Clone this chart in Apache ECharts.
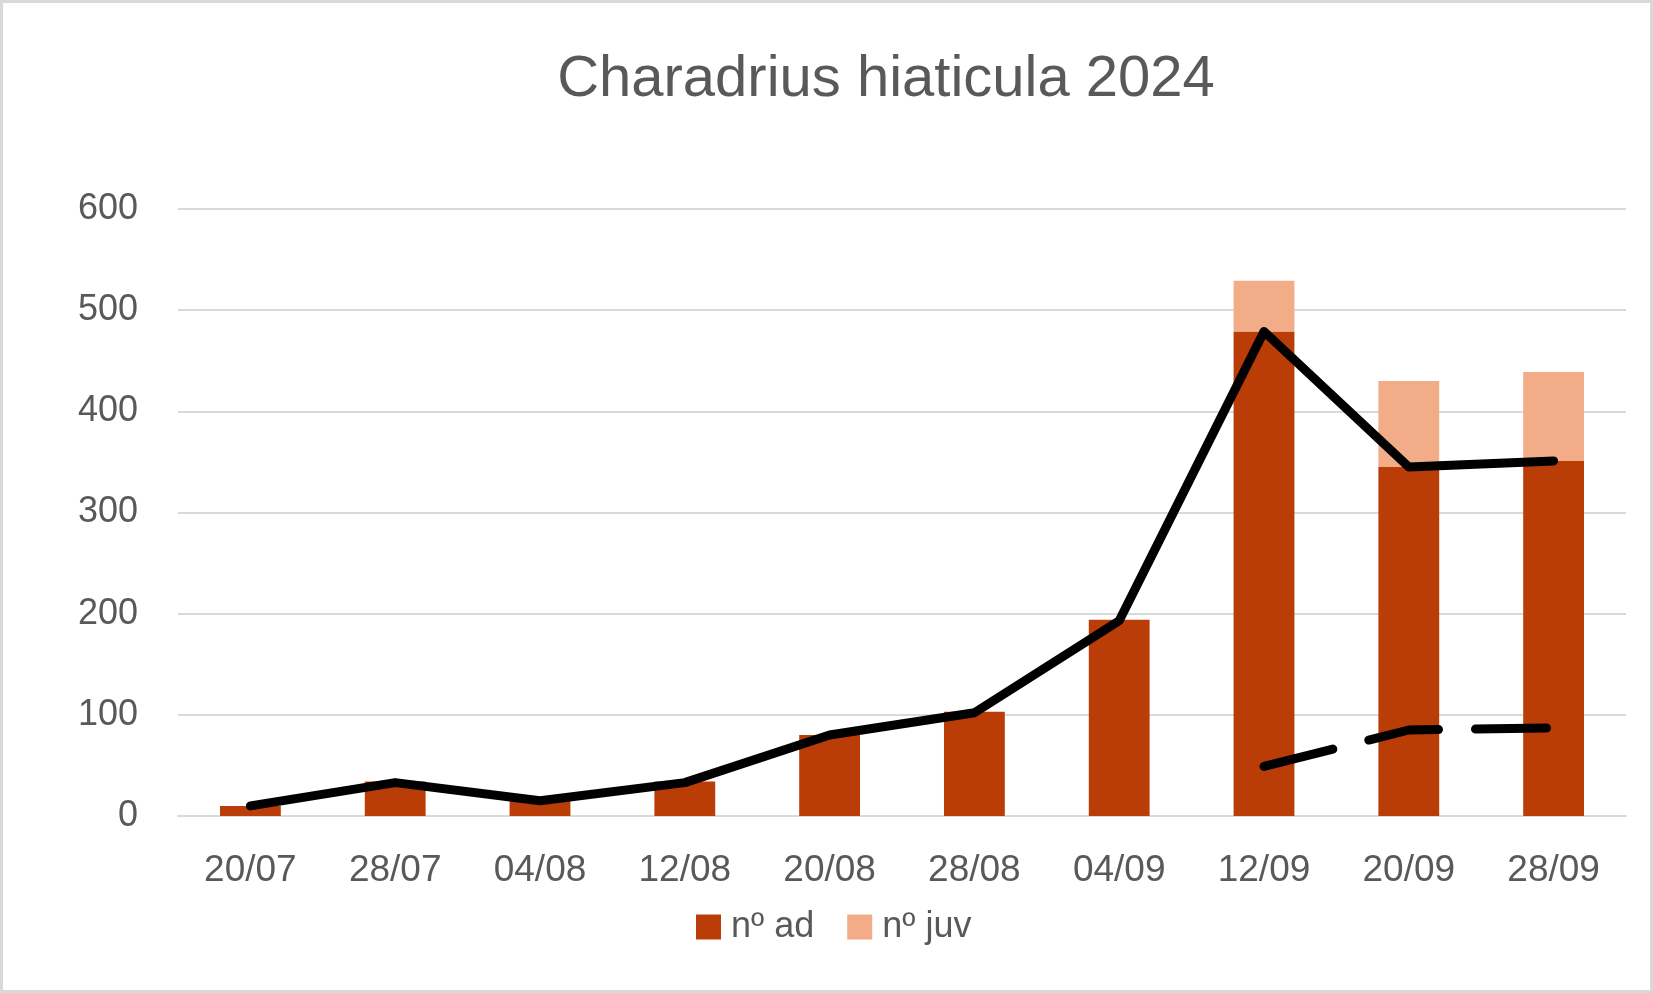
<!DOCTYPE html>
<html>
<head>
<meta charset="utf-8">
<script src="https://cdn.jsdelivr.net/npm/echarts@6/dist/echarts.min.js"></script>
<style>
html,body{margin:0;padding:0;background:#fff;}
#c{width:1653px;height:993px;}
</style>
</head>
<body>
<div id="c"></div>
<script>
var categories = ['20/07','28/07','04/08','12/08','20/08','28/08','04/09','12/09','20/09','28/09'];
var adults = [10, 34, 15, 34, 80, 103, 194, 479, 345, 351];
var juveniles = [null, null, null, null, null, null, null, 50, 85, 88];
var adultLine = [10, 33, 15, 33, 80, 102, 193, 479, 345, 351];
var juvenileLine = [null, null, null, null, null, null, null, 49, 85, 87];
var yTicks = [0, 100, 200, 300, 400, 500, 600];

var textColor = '#595959';
var font = 'Liberation Sans, Arial, sans-serif';
var chart = echarts.init(document.getElementById('c'));
chart.setOption({
  animation: false,
  backgroundColor: '#ffffff',
  title: {
    text: 'Charadrius hiaticula 2024',
    left: 881,
    textAlign: 'center',
    top: 46,
    textStyle: { color: textColor, fontSize: 58, fontWeight: 'normal', fontFamily: font }
  },
  graphic: [{
    type: 'rect',
    silent: true,
    shape: { x: 1.5, y: 1.5, width: 1650, height: 990 },
    style: { fill: 'none', stroke: '#d9d9d9', lineWidth: 3 }
  }],
  legend: {
    data: ['nº ad', 'nº juv'],
    icon: 'rect',
    left: 691,
    top: 904,
    itemWidth: 25,
    itemHeight: 25,
    itemGap: 33,
    textStyle: { color: textColor, fontSize: 36, fontFamily: font, padding: [0, 0, 0, 5] }
  },
  grid: { left: 178, right: 27, top: 209, bottom: 177, containLabel: false },
  xAxis: {
    type: 'category',
    data: categories,
    axisLine: { show: true, lineStyle: { color: '#d9d9d9', width: 2 } },
    axisTick: { show: false },
    axisLabel: { color: textColor, fontSize: 37, fontFamily: font, margin: 36 }
  },
  yAxis: {
    type: 'value',
    min: yTicks[0],
    max: yTicks[yTicks.length - 1],
    interval: 100,
    axisLine: { show: false },
    axisTick: { show: false },
    axisLabel: { color: textColor, fontSize: 36, fontFamily: font, margin: 40 },
    splitLine: { lineStyle: { color: '#d9d9d9', width: 2 } }
  },
  series: [
    {
      name: 'nº ad', type: 'bar', stack: 'total', data: adults,
      barCategoryGap: '58%',
      itemStyle: { color: '#BA3C06' }
    },
    {
      name: 'nº juv', type: 'bar', stack: 'total', data: juveniles,
      itemStyle: { color: '#F2AC87' }
    },
    {
      name: 'linha ad', type: 'line', data: adultLine, symbol: 'none', z: 5,
      lineStyle: { color: '#000000', width: 9, cap: 'round', join: 'round' }
    },
    {
      name: 'linha juv', type: 'line', data: juvenileLine, symbol: 'none', z: 5,
      connectNulls: false,
      lineStyle: { color: '#000000', width: 9, type: [71, 37], cap: 'round', join: 'round' }
    }
  ]
});
</script>
</body>
</html>
